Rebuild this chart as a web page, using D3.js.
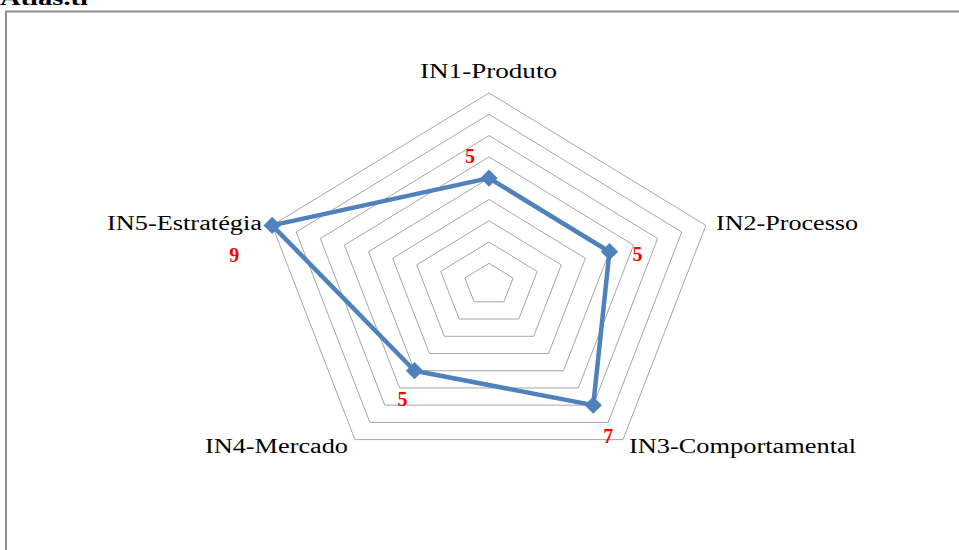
<!DOCTYPE html>
<html>
<head>
<meta charset="utf-8">
<script src="https://cdn.jsdelivr.net/npm/d3@7"></script>
<style>
  html, body { margin: 0; padding: 0; background: #fff; }
  svg { display: block; }
</style>
</head>
<body>
<svg id="chart" width="959" height="550"></svg>
<script>
// Innovation dimensions and their scores
const categories = ["IN1-Produto", "IN2-Processo", "IN3-Comportamental", "IN4-Mercado", "IN5-Estratégia"];
const values = [5, 5, 7, 5, 9];
const gridLevels = [1, 2, 3, 4, 5, 6, 7, 8, 9];

const svg = d3.select("#chart");
const W = 959, H = 550;
const serif = "Liberation Serif, Times New Roman, serif";

// Title and frame
svg.append("text")
  .attr("x", 0).attr("y", 5)
  .attr("font-family", serif)
  .attr("font-weight", "bold").attr("font-size", 21)
  .attr("textLength", 88).attr("lengthAdjust", "spacingAndGlyphs")
  .attr("fill", "#000").text("Atlas.ti");

svg.append("path")
  .attr("d", `M6,${H} L6,11.5 L${W},11.5`)
  .attr("fill", "none").attr("stroke", "#8c8c8c").attr("stroke-width", 2);

// Radar geometry (horizontal axis slightly wider than vertical)
const cx = 489, cy = 284.6, sx = 1.19;
const r = d3.scaleLinear().domain([0, 9]).range([0, 191.6]);
const angle = d3.scalePoint().domain(categories).range([0, 2 * Math.PI * 4 / 5]);
const px = (c, v) => cx + r(v) * Math.sin(angle(c)) * sx;
const py = (c, v) => cy - r(v) * Math.cos(angle(c));

const g = svg.append("g");

// Grid rings
g.selectAll("path.ring").data(gridLevels).join("path")
  .attr("class", "ring")
  .attr("d", lv => d3.line()(categories.map(c => [px(c, lv), py(c, lv)])) + "Z")
  .attr("fill", "none").attr("stroke", "#a6a6a6").attr("stroke-width", 1);

// Series line
g.append("path")
  .attr("d", d3.line()(categories.map((c, i) => [px(c, values[i]), py(c, values[i])])) + "Z")
  .attr("fill", "none").attr("stroke", "#4f81bd").attr("stroke-width", 4.5)
  .attr("stroke-linejoin", "round");

// Diamond markers
g.selectAll("path.mk").data(categories).join("path")
  .attr("class", "mk")
  .attr("d", d3.symbol(d3.symbolSquare, 150)())
  .attr("transform", (c, i) => `translate(${px(c, values[i])},${py(c, values[i])}) rotate(45)`)
  .attr("fill", "#4f81bd");

// Category labels
const catPos = [
  { x: 420, y: 78, w: 137 },
  { x: 716, y: 230, w: 142 },
  { x: 629, y: 453, w: 227 },
  { x: 205, y: 453, w: 143 },
  { x: 107, y: 230, w: 155 }
];
g.selectAll("text.cat").data(categories).join("text")
  .attr("class", "cat")
  .attr("x", (c, i) => catPos[i].x).attr("y", (c, i) => catPos[i].y)
  .attr("textLength", (c, i) => catPos[i].w).attr("lengthAdjust", "spacingAndGlyphs")
  .attr("font-family", serif)
  .attr("font-size", 20).attr("fill", "#000")
  .text(c => c);

// Value labels
const valOff = [
  { dx: -19, dy: -15 },
  { dx: 28, dy: 9 },
  { dx: 15, dy: 38 },
  { dx: -12, dy: 35 },
  { dx: -38, dy: 37 }
];
g.selectAll("text.val").data(categories).join("text")
  .attr("class", "val")
  .attr("x", (c, i) => px(c, values[i]) + valOff[i].dx)
  .attr("y", (c, i) => py(c, values[i]) + valOff[i].dy)
  .attr("text-anchor", "middle")
  .attr("font-family", serif)
  .attr("font-weight", "bold").attr("font-size", 20).attr("fill", "#ff0000")
  .text((c, i) => values[i]);
</script>
</body>
</html>
